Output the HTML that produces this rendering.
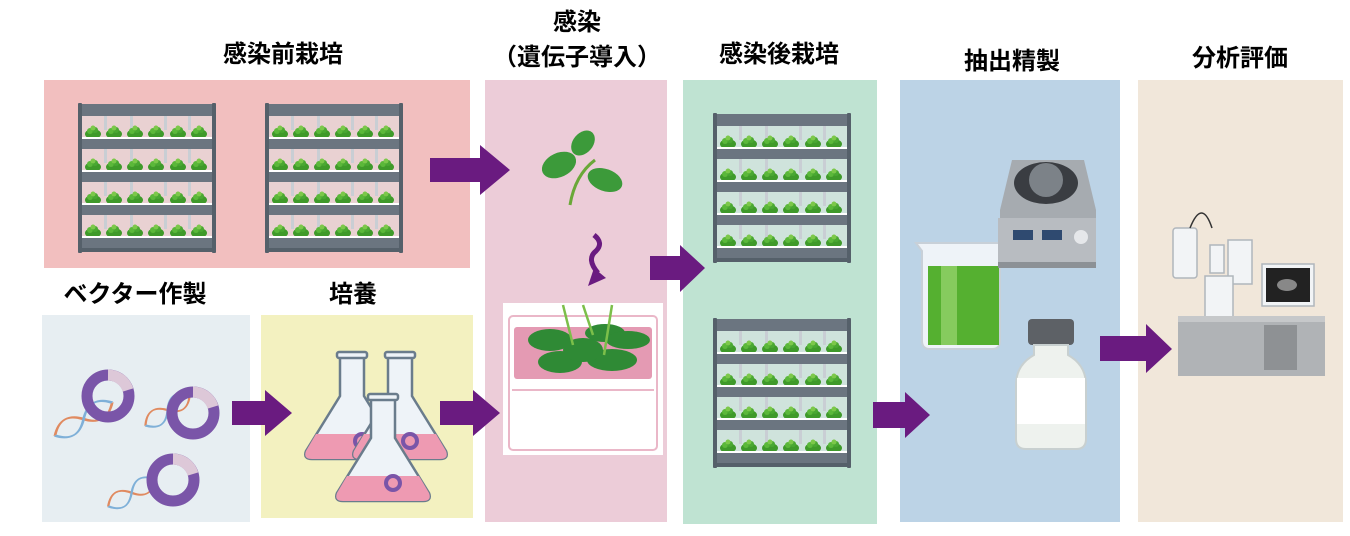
<!DOCTYPE html>
<html><head><meta charset="utf-8"><style>
html,body{margin:0;padding:0;background:#fff;width:1350px;height:536px;overflow:hidden}
svg{display:block}
text{font-family:"Liberation Sans","Noto Sans CJK JP",sans-serif;font-weight:bold;font-size:24px;fill:#000}
</style></head><body>
<svg width="1350" height="536" viewBox="0 0 1350 536" xmlns="http://www.w3.org/2000/svg">
<defs>
<g id="plant">
<ellipse cx="8" cy="9" rx="8" ry="5" fill="#3f9a2a"/>
<circle cx="5" cy="6" r="3" fill="#5bb83a"/><circle cx="10" cy="5" r="3" fill="#4aa832"/><circle cx="8" cy="3" r="2.5" fill="#7cc84a"/>
</g>
<g id="row">
<rect x="4" y="0" width="130" height="24" fill="#dfe3e6" opacity="0.5"/>
<rect x="26" y="0" width="3" height="14" fill="#c9ced4"/><rect x="52" y="0" width="3" height="14" fill="#c9ced4"/><rect x="86" y="0" width="3" height="14" fill="#c9ced4"/><rect x="110" y="0" width="3" height="14" fill="#c9ced4"/>
<use href="#plant" x="7" y="9"/><use href="#plant" x="28" y="9"/><use href="#plant" x="49" y="9"/><use href="#plant" x="70" y="9"/><use href="#plant" x="92" y="9"/><use href="#plant" x="113" y="9"/>
<rect x="4" y="21" width="130" height="2" fill="#fff"/>
<rect x="4" y="23" width="130" height="10" fill="#6b7580"/>
</g>
<g id="shelf">
<rect x="0" y="0" width="4" height="150" fill="#55606a" rx="1"/>
<rect x="134" y="0" width="4" height="150" fill="#55606a" rx="1"/>
<rect x="4" y="1" width="130" height="12" fill="#6b7580"/>
<use href="#row" x="0" y="13"/><use href="#row" x="0" y="46"/><use href="#row" x="0" y="79"/><use href="#row" x="0" y="112"/>
<rect x="4" y="145" width="130" height="4" fill="#55606a"/>
</g>
<g id="dna">
<path d="M0 30 C10 10 20 10 30 30 C40 50 50 50 60 30" fill="none" stroke="#e08a60" stroke-width="3"/>
<path d="M0 30 C10 50 20 50 30 30 C40 10 50 10 60 30" fill="none" stroke="#7fb0d8" stroke-width="3"/>
</g>
<g id="plasmid">
<circle cx="0" cy="0" r="21" fill="none" stroke="#7a55a8" stroke-width="11"/>
<path d="M0 -21 A21 21 0 0 1 20 -6" fill="none" stroke="#ddc8d8" stroke-width="11"/>
</g>
<g id="flask">
<path d="M-12 0 h24 v40 l34 55 q3 8 -6 8 h-80 q-9 0 -6 -8 l34 -55 z" fill="#eef3f8" stroke="#6a7c8c" stroke-width="2.5"/>
<path d="M-36 78 h72 l10 17 q3 8 -6 8 h-80 q-9 0 -6 -8 z" fill="#ee9ab2"/>
<rect x="-15" y="-4" width="30" height="6" rx="2" fill="#eef3f8" stroke="#6a7c8c" stroke-width="2.5"/>
<circle cx="10" cy="85" r="7" fill="none" stroke="#7a55a8" stroke-width="4"/>
</g>
</defs>

<!-- panels -->
<rect x="44" y="80" width="426" height="188" fill="#f2bfbf"/>
<rect x="42" y="315" width="208" height="207" fill="#e7eef2"/>
<rect x="261" y="315" width="212" height="203" fill="#f3f1c0"/>
<rect x="485" y="80" width="182" height="442" fill="#ecccd8"/>
<rect x="683" y="80" width="194" height="444" fill="#bfe3d2"/>
<rect x="900" y="80" width="220" height="442" fill="#bcd3e6"/>
<rect x="1138" y="80" width="205" height="442" fill="#f1e7da"/>

<!-- titles -->
<text x="283" y="62" text-anchor="middle">感染前栽培</text>
<text x="577" y="30" text-anchor="middle">感染</text>
<text x="577" y="65" text-anchor="middle">（遺伝子導入）</text>
<text x="779" y="62" text-anchor="middle">感染後栽培</text>
<text x="1012" y="69" text-anchor="middle">抽出精製</text>
<text x="1240" y="66" text-anchor="middle">分析評価</text>
<text x="135" y="302" text-anchor="middle">ベクター作製</text>
<text x="353" y="302" text-anchor="middle">培養</text>

<!-- shelves -->
<use href="#shelf" x="78" y="103"/>
<use href="#shelf" x="265" y="103"/>
<use href="#shelf" x="713" y="113"/>
<use href="#shelf" x="713" y="318"/>

<!-- leaf -->
<g transform="translate(575,165)">
<path d="M-5 40 Q0 10 20 -5" stroke="#6aa838" stroke-width="3" fill="none"/>
<ellipse cx="-16" cy="0" rx="18" ry="12" fill="#3c9a3a" transform="rotate(-25 -16 0)"/>
<ellipse cx="8" cy="-22" rx="14" ry="10" fill="#3c9a3a" transform="rotate(-50 8 -22)"/>
<ellipse cx="30" cy="15" rx="18" ry="11" fill="#3c9a3a" transform="rotate(20 30 15)"/>
</g>
<!-- curved arrow -->
<path d="M594 235 q10 8 2 16 q-10 8 2 22" stroke="#6a1b80" stroke-width="5" fill="none"/>
<polygon points="588,286 594,268 606,278" fill="#6a1b80"/>

<!-- dish -->
<rect x="503" y="303" width="160" height="152" fill="#fff"/>
<rect x="509" y="316" width="148" height="134" rx="4" fill="#fff" stroke="#eab7c8" stroke-width="2"/>
<rect x="514" y="327" width="138" height="52" rx="3" fill="#e49ab3"/>
<line x1="512" y1="390" x2="654" y2="390" stroke="#eab7c8" stroke-width="2"/>
<g fill="#2f8a35">
<ellipse cx="550" cy="340" rx="22" ry="11"/><ellipse cx="605" cy="333" rx="20" ry="9"/><ellipse cx="628" cy="340" rx="22" ry="9"/>
<ellipse cx="560" cy="362" rx="22" ry="11"/><ellipse cx="612" cy="360" rx="25" ry="11"/><ellipse cx="583" cy="350" rx="20" ry="12"/>
</g>
<path d="M563 305 l10 40 M583 305 l10 30 M612 305 l-8 50" stroke="#7cbf4a" stroke-width="2.5" fill="none"/>

<!-- DNA & plasmids -->
<use href="#dna" transform="translate(46,420) rotate(-30) scale(1.1,0.6)"/>
<use href="#plasmid" x="108" y="396"/>
<use href="#dna" transform="translate(136,412) rotate(-35) scale(0.9,0.55)"/>
<use href="#plasmid" x="193" y="413"/>
<use href="#dna" transform="translate(100,492) rotate(-30) scale(0.9,0.55)"/>
<use href="#plasmid" x="173" y="480"/>

<!-- flasks -->
<use href="#flask" x="352" y="356"/>
<use href="#flask" x="400" y="356"/>
<use href="#flask" x="383" y="398"/>

<!-- beaker -->
<path d="M916 243 h84 v98 q0 8 -8 8 h-62 q-8 0 -8 -8 v-90 z" fill="#eef3f8" stroke="#c8d0d8" stroke-width="2"/>
<rect x="928" y="266" width="71" height="79" fill="#55b030"/>
<rect x="941" y="266" width="16" height="79" fill="#86cb5e"/>
<!-- centrifuge -->
<path d="M1012 160 h72 l12 50 v52 h-96 v-52 z" fill="#a6abb0"/>
<ellipse cx="1046" cy="183" rx="32" ry="21" fill="#3a3d42"/>
<circle cx="1046" cy="180" r="17" fill="#7c8288"/>
<rect x="998" y="218" width="98" height="46" fill="#b8bcc1"/>
<rect x="1013" y="230" width="20" height="10" fill="#2f4a70"/><rect x="1042" y="230" width="20" height="10" fill="#2f4a70"/>
<circle cx="1081" cy="237" r="7" fill="#e5e7ea"/>
<rect x="998" y="262" width="98" height="6" fill="#8c9196"/>
<!-- bottle -->
<rect x="1028" y="319" width="46" height="26" rx="4" fill="#5d6166"/>
<path d="M1034 345 h34 v10 q18 10 18 30 v54 q0 10 -10 10 h-50 q-10 0 -10 -10 v-54 q0 -20 18 -30z" fill="#eef2ee" stroke="#c8d0d0" stroke-width="2"/>
<rect x="1017" y="378" width="68" height="46" fill="#fff"/>

<!-- analyzer -->
<rect x="1173" y="228" width="24" height="50" rx="3" fill="#f2f4f6" stroke="#b0b6bc" stroke-width="1.5"/>
<rect x="1228" y="240" width="24" height="44" fill="#f2f4f6" stroke="#b0b6bc" stroke-width="1.5"/>
<rect x="1210" y="245" width="14" height="28" fill="#f2f4f6" stroke="#b0b6bc" stroke-width="1.5"/>
<rect x="1205" y="276" width="28" height="42" fill="#f2f4f6" stroke="#b0b6bc" stroke-width="1.5"/>
<rect x="1262" y="264" width="52" height="42" fill="#f2f4f6" stroke="#b0b6bc" stroke-width="1.5"/>
<rect x="1266" y="268" width="44" height="34" fill="#222"/>
<ellipse cx="1287" cy="285" rx="10" ry="6" fill="#888"/>
<path d="M1190 228 q12 -30 22 0" stroke="#333" stroke-width="1.5" fill="none"/>
<rect x="1178" y="318" width="147" height="58" fill="#b0b3b6"/>
<rect x="1264" y="325" width="33" height="45" fill="#8e9194"/>
<rect x="1178" y="316" width="147" height="6" fill="#c6c8ca"/>

<!-- arrows -->
<g fill="#6a1b80">
<polygon points="430,158 480,158 480,145 510,170 480,195 480,182 430,182"/>
<polygon points="650,256 680,256 680,245 705,268 680,292 680,280 650,280"/>
<polygon points="232,401 265,401 265,390 292,413 265,436 265,425 232,425"/>
<polygon points="440,401 473,401 473,390 500,413 473,436 473,425 440,425"/>
<polygon points="873,402 905,402 905,392 930,415 905,438 905,428 873,428"/>
<polygon points="1100,336 1146,336 1146,324 1172,349 1146,373 1146,361 1100,361"/>
</g>
</svg>
</body></html>
